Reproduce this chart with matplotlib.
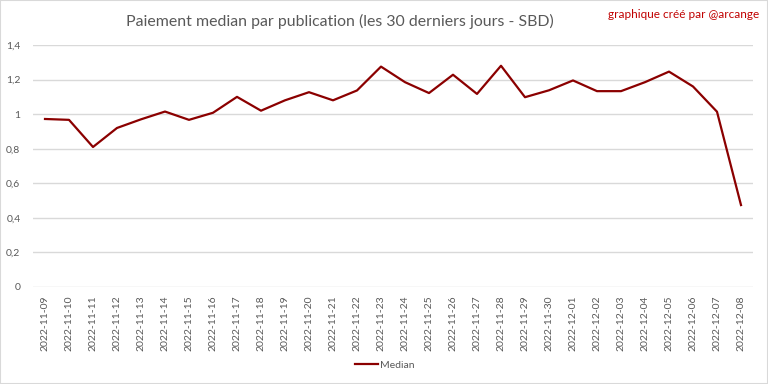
import matplotlib
matplotlib.use("Agg")
import matplotlib.pyplot as plt
from matplotlib.ticker import FuncFormatter, MultipleLocator
from matplotlib.patches import Rectangle

dates = ["2022-11-09", "2022-11-10", "2022-11-11", "2022-11-12", "2022-11-13", "2022-11-14",
         "2022-11-15", "2022-11-16", "2022-11-17", "2022-11-18", "2022-11-19", "2022-11-20",
         "2022-11-21", "2022-11-22", "2022-11-23", "2022-11-24", "2022-11-25", "2022-11-26",
         "2022-11-27", "2022-11-28", "2022-11-29", "2022-11-30", "2022-12-01", "2022-12-02",
         "2022-12-03", "2022-12-04", "2022-12-05", "2022-12-06", "2022-12-07", "2022-12-08"]
median = [0.972, 0.967, 0.81, 0.92, 0.97, 1.015, 0.967, 1.008, 1.10, 1.02, 1.08, 1.127,
          1.08, 1.137, 1.275, 1.185, 1.122, 1.228, 1.117, 1.28, 1.098, 1.138, 1.195, 1.133,
          1.133, 1.185, 1.246, 1.16, 1.014, 0.474]

plt.rcParams['font.family'] = ['Lato', 'DejaVu Sans']

fig = plt.figure(figsize=(7.68, 3.84), dpi=100)
fig.patches.append(Rectangle((0, 0), 1, 1, transform=fig.transFigure, fill=False,
                             edgecolor="#D9D9D9", linewidth=1.5))
ax = fig.add_axes([33/768, 1 - 287/384, 720/768, 242/384])

x = list(range(len(dates)))
ax.plot(x, median, color="#8B0000", linewidth=1.6, label="Median")

ax.set_xlim(-0.5, len(dates) - 0.5)
ax.set_ylim(0, 1.4)
ax.yaxis.set_major_locator(MultipleLocator(0.2))
ax.yaxis.set_major_formatter(FuncFormatter(lambda v, p: ("%g" % round(v, 1)).replace(".", ",")))
ax.set_xticks(x)
ax.set_xticklabels(dates, rotation=90)
ax.grid(axis="y", color="#D9D9D9", linewidth=1)
ax.set_axisbelow(True)
for s in ax.spines.values():
    s.set_visible(False)
ax.tick_params(axis="both", length=0, colors="#595959", labelsize=7.5)
ax.tick_params(axis="x", pad=6)
ax.tick_params(axis="y", pad=9)

fig.text(340/768, 1 - 21/384, "Paiement median par publication (les 30 derniers jours - SBD)",
         ha="center", va="center", fontsize=11.45, color="#595959")
fig.text(759/768, 1 - 14/384, "graphique créé par @arcange", ha="right", va="center",
         fontsize=8.5, color="#C00000")

leg = fig.legend(loc="center", bbox_to_anchor=(385/768, 1 - 365/384), frameon=False,
                 fontsize=7.5, handlelength=2.2, handletextpad=0.2)
for t in leg.get_texts():
    t.set_color("#595959")

fig.savefig("out.png", dpi=100)
